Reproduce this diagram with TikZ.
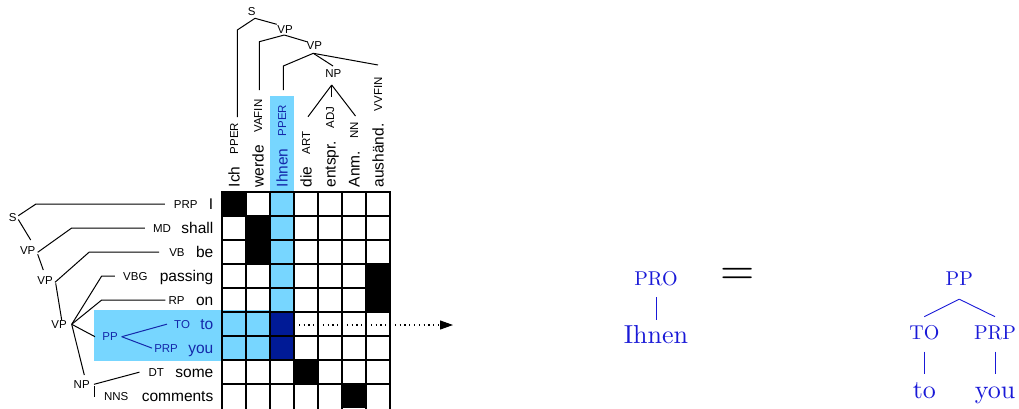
\documentclass[tikz,border=0pt]{standalone}
\usepackage{fontspec}
\setmainfont{Latin Modern Roman}
\newfontfamily\sansf{Liberation Sans}
\newfontfamily\cmten{lmroman10-regular}[Extension=.otf]
\usetikzlibrary{calc,arrows.meta}
\definecolor{lightblu}{RGB}{119,214,255}
\definecolor{darkblu}{RGB}{0,26,150}
\definecolor{hltext}{RGB}{20,40,170}
\definecolor{treeblu}{RGB}{25,25,215}
\tikzset{
  wordnode/.style={font=\sansf\fontsize{15.5}{18}\selectfont, inner sep=0pt, anchor=base east},
  tagnode/.style={font=\sansf\fontsize{11.5}{13}\selectfont, inner sep=0pt, anchor=base east},
  vword/.style={font=\sansf\fontsize{15.5}{18}\selectfont, inner sep=0pt, rotate=90, anchor=base west},
  vtag/.style={font=\sansf\fontsize{11.5}{13}\selectfont, inner sep=0pt, rotate=90, anchor=base west},
  labnode/.style={font=\sansf\fontsize{11.5}{13}\selectfont, inner sep=0pt},
  edge/.style={line width=1pt, line join=round},
  gridline/.style={line width=1.2pt, line cap=rect},
  rlab/.style={font=\cmten\fontsize{20}{24}\selectfont, text=treeblu, inner sep=0pt, anchor=base},
  rword/.style={font=\cmten\fontsize{26}{30}\selectfont, text=treeblu, inner sep=0pt, anchor=base},
  redge/.style={line width=0.9pt, draw=treeblu},
}
\begin{document}
\begin{tikzpicture}[x=1pt,y=-1pt]
\useasboundingbox (0,0) rectangle (1019,408);

% ---------- highlights and cells ----------
\fill[lightblu] (270,96) rectangle (294,313);
\fill[lightblu] (94,310) rectangle (270,361);
\fill[darkblu] (270,313) rectangle (294,361);
\fill[black] (222,192) rectangle (246,216);
\fill[black] (246,216) rectangle (270,264);
\fill[black] (366,264) rectangle (390,312);
\fill[black] (294,360) rectangle (318,384);
\fill[black] (342,384) rectangle (366,408);
\foreach \i in {0,...,7} {\draw[gridline] (222+24*\i,192) -- (222+24*\i,410);}
\foreach \k in {0,...,8} {\draw[gridline] (222,192+24*\k) -- (390,192+24*\k);}

% ---------- row labels (left) ----------
\node[wordnode] (wI) at (213.5,209.5) {I};
\node[wordnode] (wshall) at (213.5,233.5) {shall};
\node[wordnode] (wbe) at (213.5,257.5) {be};
\node[wordnode] (wpassing) at (213.5,281.5) {passing};
\node[wordnode] (won) at (213.5,305.5) {on};
\node[wordnode, text=hltext] (wto) at (213.5,329.5) {to};
\node[wordnode, text=hltext] (wyou) at (213.5,353.5) {you};
\node[wordnode] (wsome) at (213.5,377.5) {some};
\node[wordnode] (wcomments) at (213.5,401.5) {comments};
\node[tagnode] (tI) at ($(wI.base west)+(-11,-1.4)$) {PRP};
\node[tagnode] (tMD) at ($(wshall.base west)+(-10,-1.4)$) {MD};
\node[tagnode] (tVB) at ($(wbe.base west)+(-11,-1.4)$) {VB};
\node[tagnode] (tVBG) at ($(wpassing.base west)+(-12,-1.4)$) {VBG};
\node[tagnode] (tRP) at ($(won.base west)+(-11,-1.4)$) {RP};
\node[tagnode, text=hltext] (tTO) at ($(wto.base west)+(-10,-1.4)$) {TO};
\node[tagnode, text=hltext] (tPRP) at ($(wyou.base west)+(-10,-1.4)$) {PRP};
\node[tagnode] (tDT) at ($(wsome.base west)+(-11,-1.4)$) {DT};
\node[tagnode] (tNNS) at ($(wcomments.base west)+(-13,-1.4)$) {NNS};

% ---------- left tree ----------
\node[labnode] (S) at (12.7,217.7) {S};
\node[labnode] (VPa) at (27.7,251) {VP};
\node[labnode] (VPb) at (45,281) {VP};
\node[labnode] (VPc) at (59,324.3) {VP};
\node[labnode, text=hltext] (PP) at (110,336.7) {PP};
\node[labnode] (NP) at (81.7,385) {NP};

\draw[edge] ($(S)+(5.6,-2)$) -- (36,204) -- ($(tI.west)+(-9,0)$);
\draw[edge] ($(S)+(5.6,1.8)$) -- ($(VPa)+(3,-11)$);
\draw[edge] ($(VPa)+(10,1.3)$) -- (71.7,228) -- ($(tMD.west)+(-8,0)$);
\draw[edge] ($(VPa)+(10,3.3)$) -- ($(VPb)+(-1.7,-11)$);
\draw[edge] ($(VPb)+(10,1.3)$) -- (89.3,252) -- ($(tVB.west)+(-10,0)$);
\draw[edge] ($(VPb)+(10.7,2.3)$) -- ($(VPc)+(2.7,-4.3)$);
\draw[edge] ($(VPc)+(12.7,0)$) -- (101.7,276) -- ($(tVBG.west)+(-8,0)$);
\draw[edge] ($(VPc)+(12.7,0)$) -- (101.7,300) -- ($(tRP.west)+(-3,0)$);
\draw[edge] ($(VPc)+(12.7,0)$) -- ($(PP)+(-15,0)$);
\draw[edge] ($(VPc)+(12.7,0)$) -- ($(NP)+(2.6,-10)$);
\draw[edge, draw=hltext] ($(PP)+(11.7,0)$) -- ($(tTO.west)+(-7,0)$);
\draw[edge, draw=hltext] ($(PP)+(11.7,0)$) -- ($(tPRP.west)+(-2,0)$);
\draw[edge] ($(NP)+(12.3,-0.7)$) -- ($(tDT.west)+(-9,0)$);
\draw[edge] ($(NP)+(12.3,1)$) -- ($(NP)+(12.3,11.7)$);

% ---------- column labels (top) ----------
\node[vword] (cIch) at (239.5,187.5) {Ich};
\node[vword] (cwerde) at (263.5,187.5) {werde};
\node[vword, text=hltext] (cIhnen) at (287.5,187.5) {Ihnen};
\node[vword] (cdie) at (311.5,187.5) {die};
\node[vword] (centspr) at (335.5,187.5) {entspr.};
\node[vword] (cAnm) at (359.5,187.5) {Anm.};
\node[vword] (caushand) at (383.5,187.5) {aushänd.};
\node[vtag] (gIch) at ($(cIch.base east)+(-1.4,-12)$) {PPER};
\node[vtag] (gwerde) at ($(cwerde.base east)+(-1.4,-12)$) {VAFIN};
\node[vtag, text=hltext] (gIhnen) at ($(cIhnen.base east)+(-1.4,-12)$) {PPER};
\node[vtag] (gdie) at ($(cdie.base east)+(-1.4,-12)$) {ART};
\node[vtag] (gentspr) at ($(centspr.base east)+(-1.4,-12)$) {ADJ};
\node[vtag] (gAnm) at ($(cAnm.base east)+(-1.4,-12)$) {NN};
\node[vtag] (gaushand) at ($(caushand.base east)+(-1.4,-12)$) {VVFIN};

% ---------- top tree ----------
\node[labnode] (S2) at (251.7,11.7) {S};
\node[labnode] (VPd) at (285,29.3) {VP};
\node[labnode] (VPe) at (314.3,45.7) {VP};
\node[labnode] (NP2) at (333.3,74) {NP};
\coordinate (eIch) at (237.3,117);
\coordinate (ewerde) at (259.3,90);
\coordinate (eIhnen) at (283.3,90);
\coordinate (eaushand) at (378,65);
\coordinate (edie) at (308,116.7);
\coordinate (eentspr) at (331.7,97);
\coordinate (eAnm) at (355.5,116);

\draw[edge] (eIch) -- (237.3,30) -- ($(S2)+(3.3,6.6)$);
\draw[edge] ($(S2)+(3.3,6.6)$) -- ($(VPd)+(-8.3,-5)$);
\draw[edge] ($(VPd)+(-0.7,5.7)$) -- (259.3,41.7) -- (ewerde);
\draw[edge] ($(VPd)+(-0.7,5.7)$) -- ($(VPe)+(-7.6,-4)$);
\draw[edge] ($(VPe)+(-1,7.6)$) -- (283.3,66) -- (eIhnen);
\draw[edge] ($(VPe)+(-1,7.6)$) -- ($(NP2)+(-0.3,-8)$);
\draw[edge] ($(VPe)+(-1,7.6)$) -- (eaushand);
\draw[edge] ($(NP2)+(-1.6,11)$) -- (edie);
\draw[edge] ($(NP2)+(-1.6,11)$) -- (eentspr);
\draw[edge] ($(NP2)+(-1.6,11)$) -- (eAnm);

% ---------- dotted arrow ----------
\coordinate (arrS) at (294,325);
\coordinate (arrE) at (453,325);
\draw[line width=1.1pt, dash pattern=on 1.2pt off 3.6pt, -{Triangle[length=13pt,width=9pt]}] (arrS) -- (arrE);

% ---------- right trees ----------
\node[rlab] (PRO) at (656,285.7) {PRO};
\node[rword] (Ihnen2) at (656,343.3) {Ihnen};
\node[font=\cmten\fontsize{44}{44}\selectfont, inner sep=0pt, anchor=base] (eq) at (738,284.3) {=};
\node[rlab] (PP2) at (959.3,285.7) {PP};
\node[rlab] (TO2) at (924.3,339.3) {TO};
\node[rlab] (PRP2) at (995,339.3) {PRP};
\node[rword] (to2) at (924.3,398) {to};
\node[rword] (you2) at (995,398) {you};

\draw[redge] ($(PRO.base)+(0,11.5)$) -- ($(Ihnen2.base)+(0,-23)$);
\draw[redge] ($(PP2.base)+(0,13.5)$) -- ($(TO2.base)+(0,-22.6)$);
\draw[redge] ($(PP2.base)+(0,13.5)$) -- ($(PRP2.base)+(0,-22.6)$);
\draw[redge] ($(TO2.base)+(0,12.4)$) -- ($(to2.base)+(0,-24)$);
\draw[redge] ($(PRP2.base)+(0,12.4)$) -- ($(you2.base)+(0,-24)$);
\end{tikzpicture}
\end{document}
